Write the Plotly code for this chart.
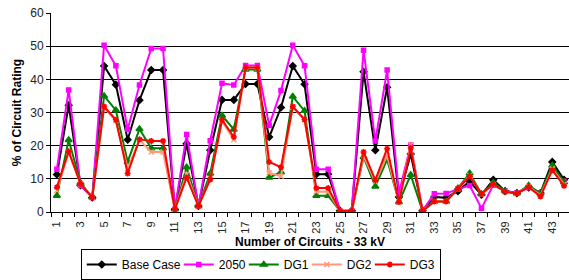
import plotly.graph_objects as go

circuits = list(range(1, 45))
tick_labels = [str(i) for i in range(1, 44, 2)]

base_case = [11.3, 32.2, 8.1, 4.4, 44.0, 38.4, 21.8, 33.7, 42.8, 42.8, 0.8, 20.6, 1.8, 18.6, 33.8, 33.8,
             38.6, 38.6, 22.6, 31.5, 44.0, 38.5, 11.4, 11.4, 0.4, 0.4, 42.3, 18.6, 37.6, 4.5, 17.5, 0.4,
             4.5, 4.3, 6.3, 9.2, 5.2, 9.7, 6.3, 5.7, 7.4, 5.7, 15.1, 9.7]
y2050 = [12.9, 36.8, 8.0, 4.4, 50.3, 44.1, 24.9, 38.3, 49.3, 49.3, 0.8, 23.4, 1.8, 21.5, 38.8, 38.3,
         44.2, 44.2, 26.1, 36.6, 50.3, 44.1, 12.9, 12.9, 0.4, 0.4, 48.8, 21.4, 42.8, 5.7, 20.2, 0.4,
         5.5, 5.6, 6.9, 8.0, 1.1, 8.1, 6.3, 5.8, 7.4, 5.7, 13.0, 9.3]
dg1 = [4.9, 21.7, 8.8, 4.4, 35.0, 30.7, 15.1, 25.0, 19.2, 19.2, 0.8, 13.5, 1.8, 11.6, 29.1, 24.9,
       43.0, 43.0, 10.4, 12.0, 34.8, 30.5, 4.9, 4.9, 0.3, 0.3, 16.6, 7.7, 15.8, 3.0, 11.2, 0.3,
       3.2, 3.2, 7.2, 11.7, 5.4, 8.8, 6.3, 5.6, 8.0, 5.6, 14.0, 9.0]
dg2 = [6.5, 18.0, 8.5, 4.4, 31.5, 27.5, 13.1, 21.8, 18.1, 18.1, 0.8, 11.4, 1.8, 10.0, 27.4, 21.8,
       43.5, 43.5, 11.8, 10.8, 31.6, 27.8, 6.1, 6.1, 0.3, 0.3, 17.0, 9.1, 17.0, 3.0, 20.3, 0.3,
       3.2, 3.2, 7.0, 11.0, 5.3, 8.3, 6.1, 5.6, 7.6, 5.0, 13.0, 8.3]
dg3 = [7.5, 18.3, 8.5, 4.4, 31.8, 27.8, 11.6, 21.9, 21.4, 21.4, 0.8, 10.4, 1.8, 9.8, 27.8, 22.6,
       43.6, 43.6, 15.1, 13.5, 31.8, 27.9, 7.2, 7.2, 0.3, 0.3, 18.1, 9.6, 19.1, 3.0, 19.3, 0.3,
       3.2, 3.2, 7.0, 10.8, 5.4, 8.4, 6.1, 5.6, 7.5, 4.7, 12.6, 7.9]

# name, values, colour, marker symbol, marker size, legend entry width
series = [
    ("Base Case", base_case, "#000000", "diamond", 5, 52),
    ("2050", y2050, "#FF00FF", "square", 4, 20),
    ("DG1", dg1, "#008000", "triangle-up", 6, 18),
    ("DG2", dg2, "#FF9977", "x-thin-open", 5, 18),
    ("DG3", dg3, "#FF0000", "asterisk-open", 5, 25),
]

fig = go.Figure()
for name, vals, color, sym, size, lw in series:
    fig.add_trace(go.Scatter(
        x=circuits, y=vals, name=name, mode="lines+markers",
        line=dict(color=color, width=2),
        marker=dict(symbol=sym, size=size, color=color, line=dict(color=color, width=1.5)),
        legendwidth=lw,
    ))

font_family = "Liberation Sans, Arial, sans-serif"
fig.update_layout(
    width=569, height=280,
    margin=dict(l=51, r=0, t=13, b=68),
    paper_bgcolor="white", plot_bgcolor="white",
    font=dict(family=font_family, size=12, color="#000000"),
    showlegend=True,
    legend=dict(
        orientation="h", x=0.405, xanchor="center",
        yref="container", y=0.0, yanchor="bottom",
        bordercolor="#000000", borderwidth=1, font=dict(size=12),
        itemwidth=30, tracegroupgap=0,
    ),
    xaxis=dict(
        automargin=False,
        range=[0.5, 44.42], tickmode="array",
        tickvals=list(range(1, 44, 2)), ticktext=tick_labels,
        tickangle=-90, ticks="outside", ticklen=4, tickcolor="rgba(0,0,0,0)",
        tickfont=dict(size=11, color="#222222"),
        minor=dict(tick0=0.5, dtick=1, ticks="outside", ticklen=4, tickcolor="#000000", showgrid=False),
        showline=True, linecolor="#000000", linewidth=1,
        showgrid=False, zeroline=False,
        title=dict(text="<b>Number of Circuits - 33 kV</b>", font=dict(size=12), standoff=9),
    ),
    yaxis=dict(
        automargin=False,
        range=[0, 60], dtick=10, ticks="outside", ticklen=4, tickcolor="#000000",
        tickfont=dict(size=12, color="#222222"),
        showline=True, linecolor="#000000", linewidth=1,
        showgrid=True, gridcolor="#000000", gridwidth=1, zeroline=False,
        title=dict(text="<b>% of Circuit Rating</b>", font=dict(size=12), standoff=6),
    ),
)

fig.write_html("out.html", config={"displayModeBar": False},
               post_script="document.body.style.margin='0';")
